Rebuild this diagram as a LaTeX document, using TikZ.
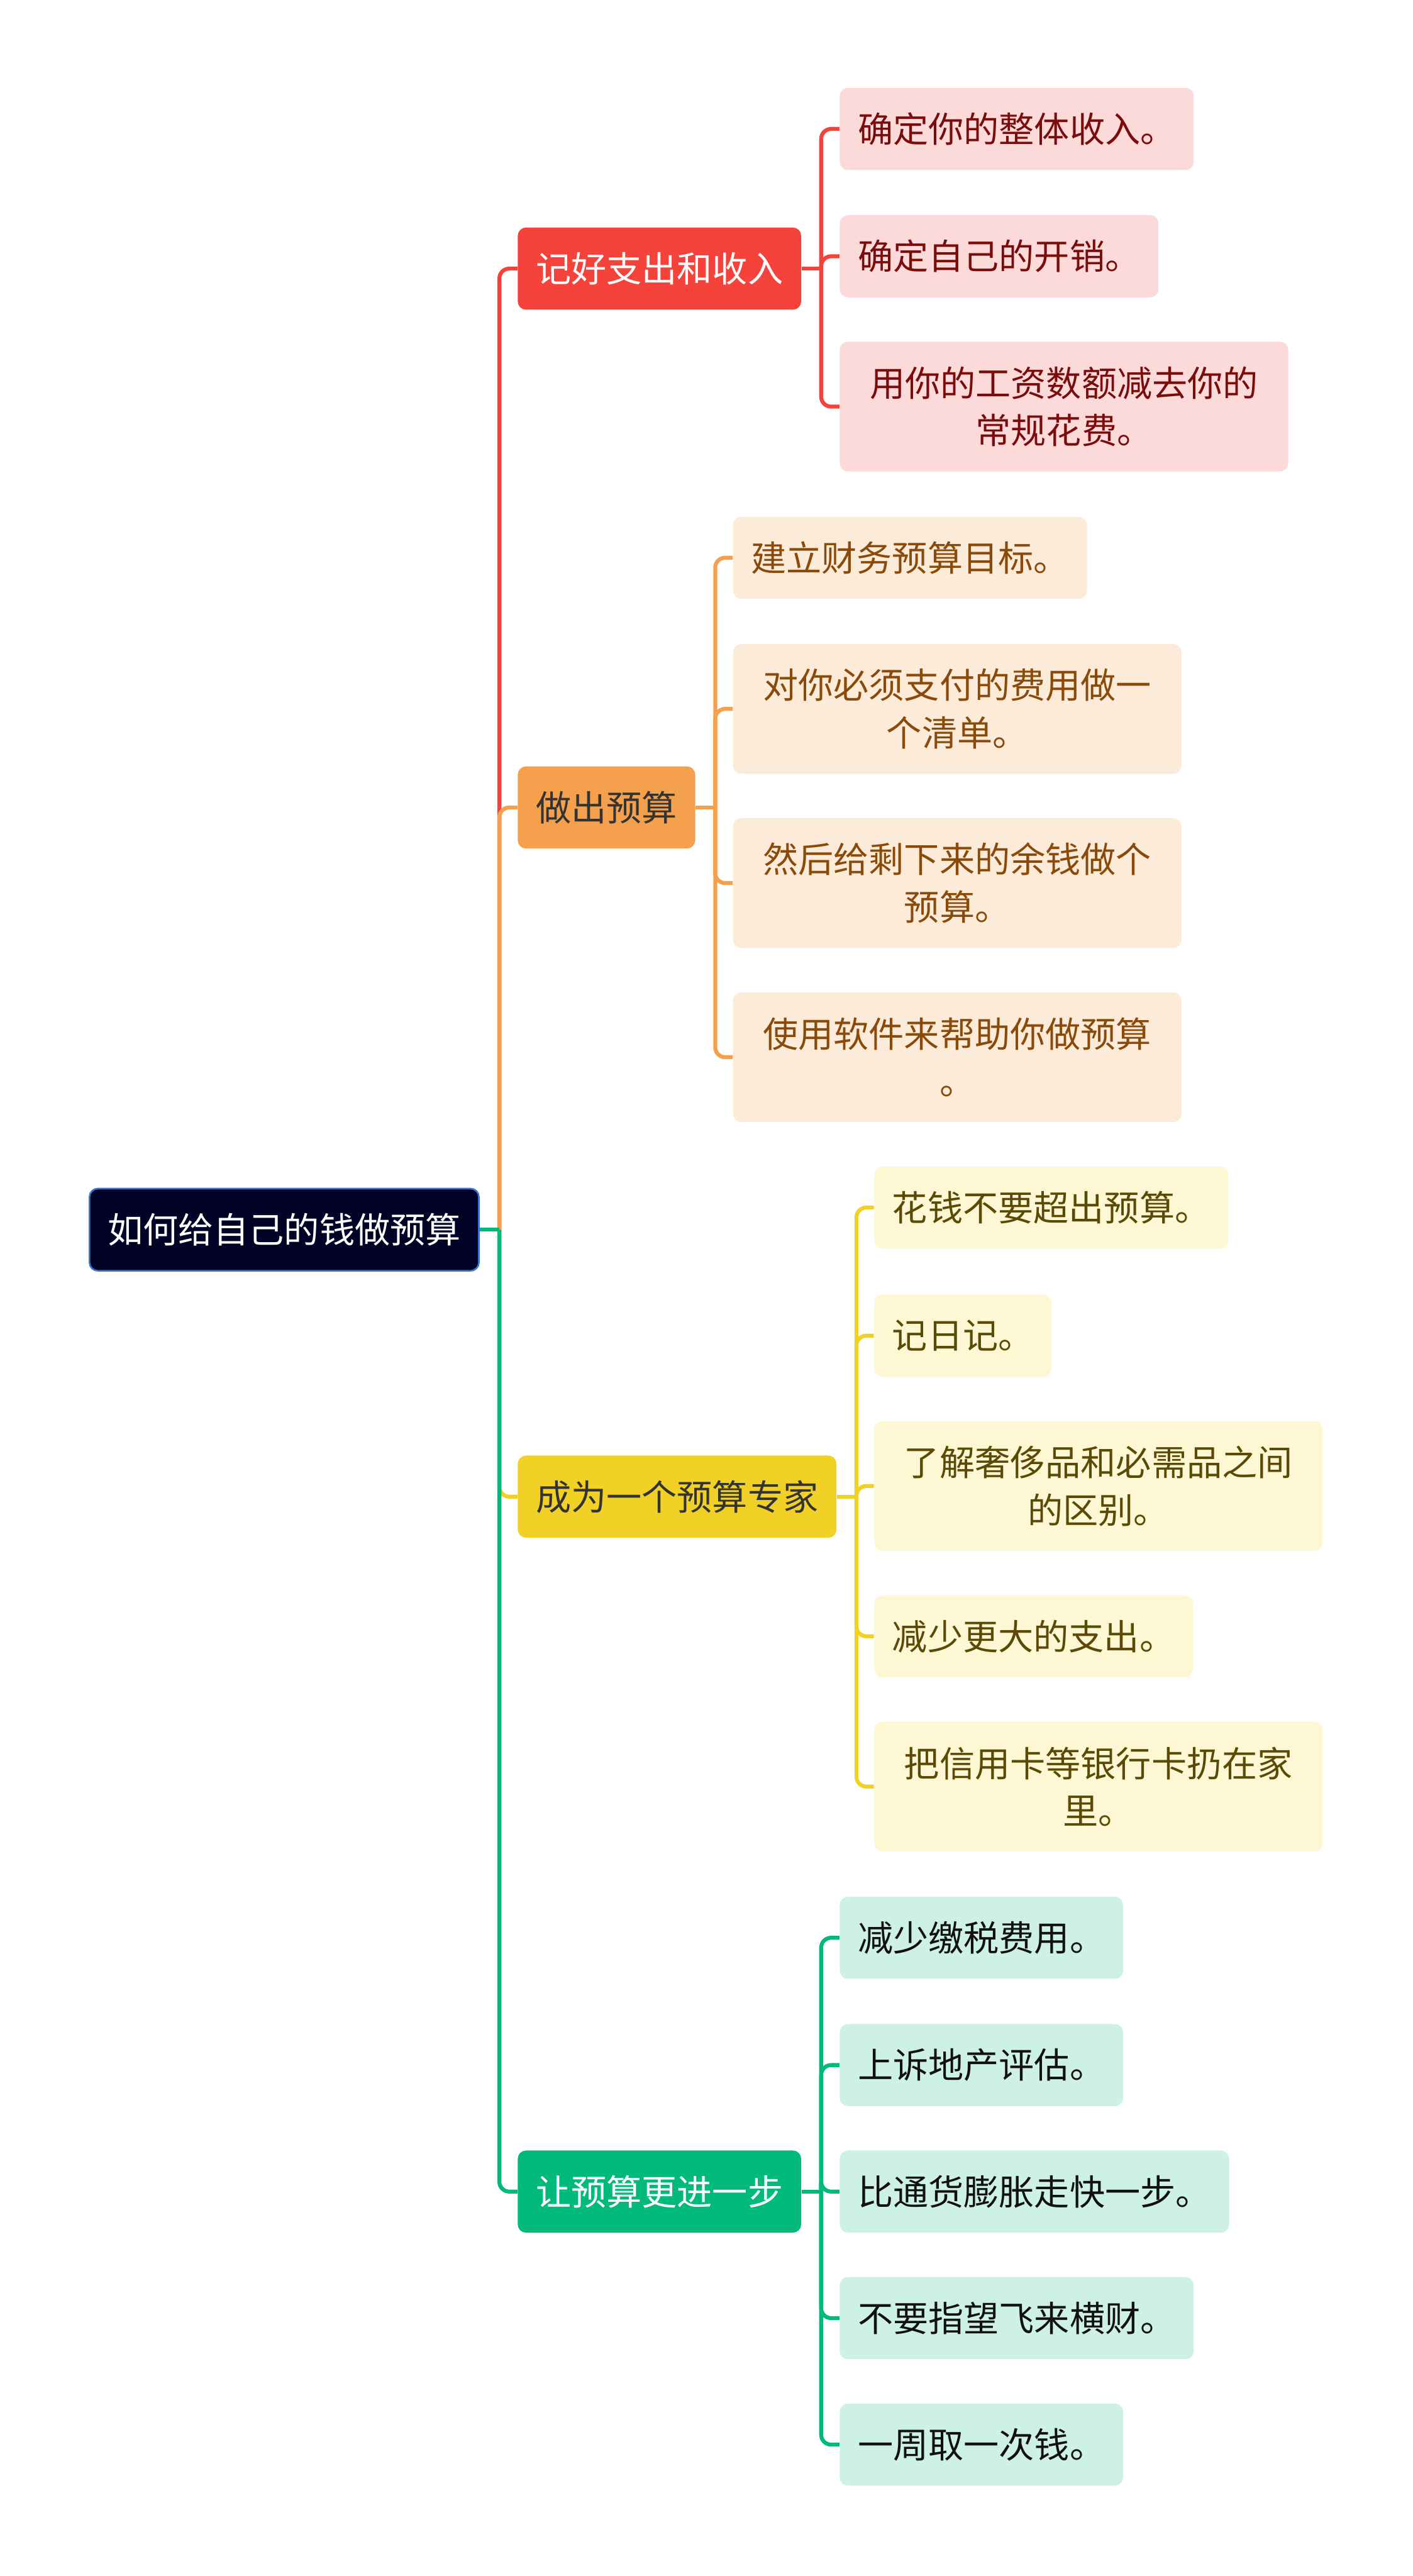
\documentclass[tikz,border=0pt]{standalone}
\usepackage{fontspec}
\newfontfamily\cjk{Noto Sans CJK SC}
\usetikzlibrary{positioning,calc}
\definecolor{rootfill}{HTML}{020226}
\definecolor{rootedge}{HTML}{3A75D0}
\definecolor{redmain}{HTML}{F5433B}
\definecolor{redleaf}{HTML}{FDDADA}
\definecolor{redtext}{HTML}{7A0C0C}
\definecolor{orgmain}{HTML}{F4A04C}
\definecolor{orgleaf}{HTML}{FDEBDA}
\definecolor{orgtext}{HTML}{8A4A0A}
\definecolor{yelmain}{HTML}{F1D125}
\definecolor{yelleaf}{HTML}{FDF7D4}
\definecolor{yeltext}{HTML}{5A4A05}
\definecolor{grnmain}{HTML}{00B97A}
\definecolor{grnleaf}{HTML}{CDF1E2}
\definecolor{grntext}{HTML}{111111}
\tikzset{
box/.style={
  rounded corners=5pt,
  anchor=west,
  inner xsep=11pt,
  inner ysep=4pt,
  minimum height=50pt,
  font=\cjk\fontsize{21.5}{29}\selectfont
  },
twoline/.style={
  box,
  text width=251pt,
  align=center,
  minimum height=79pt
  },
branch/.style={
  box,
  fill=#1
  },
link/.style={
  draw=#1,
  line width=2.4pt,
  rounded corners=6pt
  }
}

\begin{document}
\begin{tikzpicture}[x=1pt,y=-1pt]
\useasboundingbox (0,0) rectangle (860,1568);

% root and main branches
\node[box,fill=rootfill,draw=rootedge,line width=1pt,text=white] (root) at (54,748.5) {如何给自己的钱做预算};

\node[branch=redmain,text=white] (b1) at (315,163.5) {记好支出和收入};
\node[branch=orgmain,text=black!80] (b2) at (315,491.5) {做出预算};
\node[branch=yelmain,text=black!80] (b3) at (315,911) {成为一个预算专家};
\node[branch=grnmain,text=white] (b4) at (315,1334) {让预算更进一步};

% leaves of b1
\node[box,fill=redleaf,text=redtext] (r1) at (511,78.5) {确定你的整体收入。};
\node[box,fill=redleaf,text=redtext] (r2) at (511,156) {确定自己的开销。};
\node[twoline,fill=redleaf,text=redtext] (r3) at (511,247.5) {用你的工资数额减去你的\\常规花费。};

% leaves of b2
\node[box,fill=orgleaf,text=orgtext] (o1) at (446,339.5) {建立财务预算目标。};
\node[twoline,fill=orgleaf,text=orgtext] (o2) at (446,431.5) {对你必须支付的费用做一\\个清单。};
\node[twoline,fill=orgleaf,text=orgtext] (o3) at (446,537.5) {然后给剩下来的余钱做个\\预算。};
\node[twoline,fill=orgleaf,text=orgtext] (o4) at (446,643.5) {使用软件来帮助你做预算\\。};

% leaves of b3
\node[box,fill=yelleaf,text=yeltext] (y1) at (532,735) {花钱不要超出预算。};
\node[box,fill=yelleaf,text=yeltext] (y2) at (532,813) {记日记。};
\node[twoline,fill=yelleaf,text=yeltext] (y3) at (532,904.5) {了解奢侈品和必需品之间\\的区别。};
\node[box,fill=yelleaf,text=yeltext] (y4) at (532,996) {减少更大的支出。};
\node[twoline,fill=yelleaf,text=yeltext] (y5) at (532,1087.5) {把信用卡等银行卡扔在家\\里。};

% leaves of b4
\node[box,fill=grnleaf,text=grntext] (g1) at (511,1179.5) {减少缴税费用。};
\node[box,fill=grnleaf,text=grntext] (g2) at (511,1257) {上诉地产评估。};
\node[box,fill=grnleaf,text=grntext] (g3) at (511,1334) {比通货膨胀走快一步。};
\node[box,fill=grnleaf,text=grntext] (g4) at (511,1411) {不要指望飞来横财。};
\node[box,fill=grnleaf,text=grntext] (g5) at (511,1488) {一周取一次钱。};

% junction points
\coordinate (tj) at ($(root.east)+(12,0)$);
\coordinate (j1) at ($(b1.east)+(12,0)$);
\coordinate (j2) at ($(b2.east)+(12,0)$);
\coordinate (j3) at ($(b3.east)+(12,0)$);
\coordinate (j4) at ($(b4.east)+(12,0)$);

% trunk
\draw[link=redmain] (tj) |- (b1.west);
\draw[link=orgmain] (tj) |- (b2.west);
\draw[link=yelmain] (tj) |- (b3.west);
\draw[link=grnmain] (tj) |- (b4.west);
\draw[link=grnmain] (root.east) -- (tj);

% leaf links
\draw[link=redmain] (b1.east) -- (j1);
\foreach \i in {1,2,3}
  \draw[link=redmain] (j1) |- (r\i.west);
\draw[link=orgmain] (b2.east) -- (j2);
\foreach \i in {1,...,4}
  \draw[link=orgmain] (j2) |- (o\i.west);
\draw[link=yelmain] (b3.east) -- (j3);
\foreach \i in {1,...,5}
  \draw[link=yelmain] (j3) |- (y\i.west);
\draw[link=grnmain] (b4.east) -- (j4);
\foreach \i in {1,...,5}
  \draw[link=grnmain] (j4) |- (g\i.west);
\end{tikzpicture}
\end{document}
